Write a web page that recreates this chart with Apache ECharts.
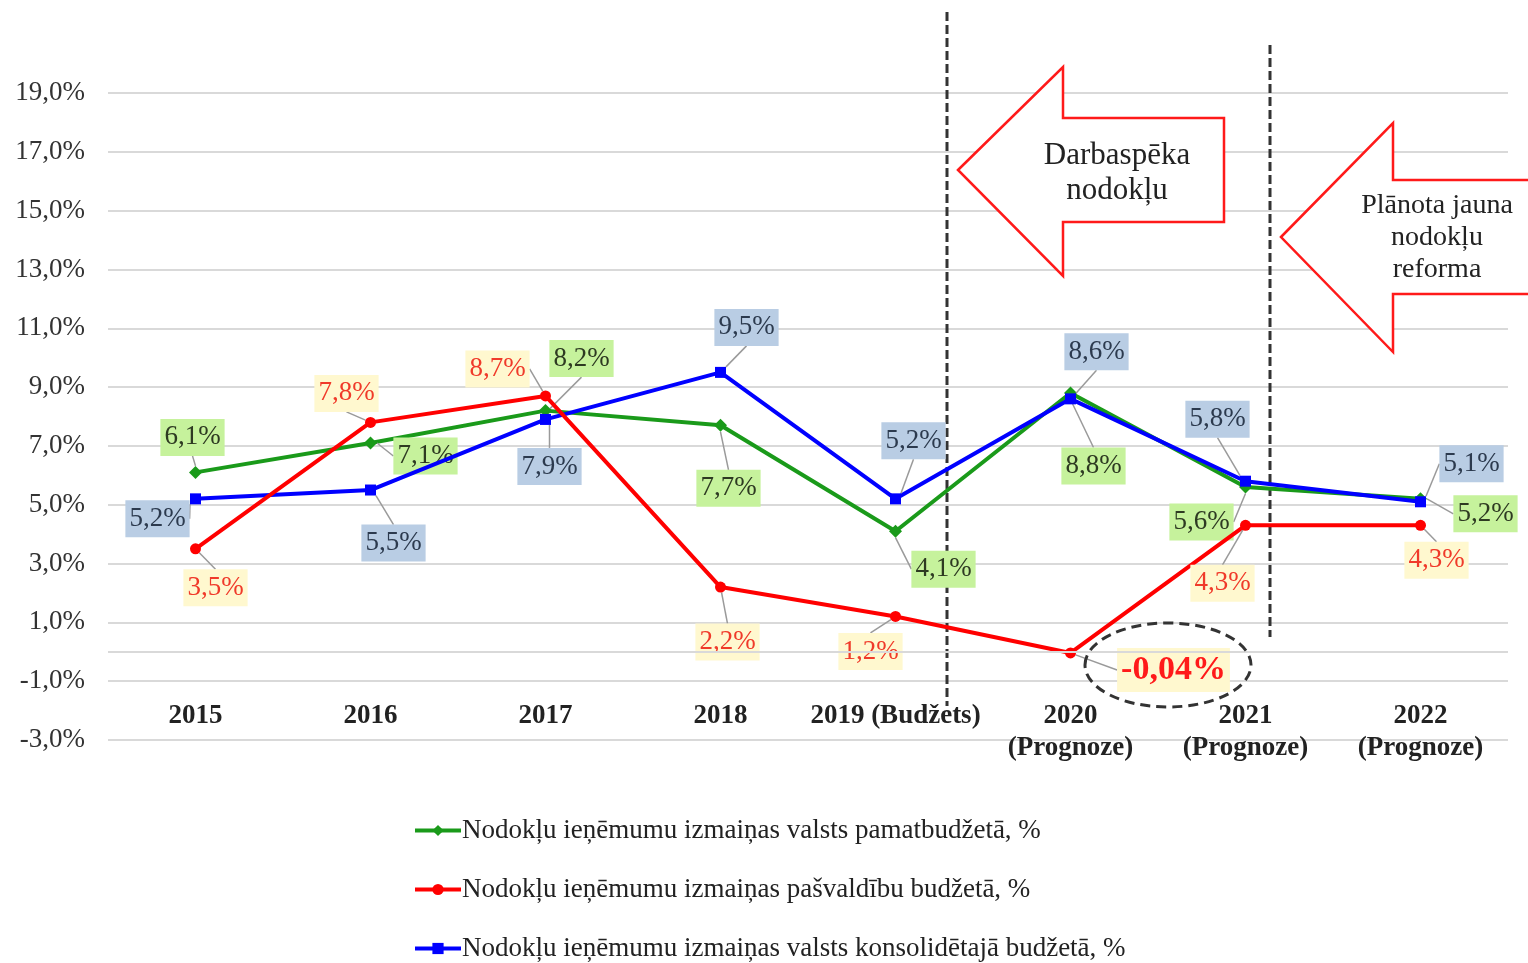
<!DOCTYPE html>
<html>
<head>
<meta charset="utf-8">
<script src="https://cdn.jsdelivr.net/npm/echarts@6/dist/echarts.min.js"></script>
<style>
  html, body { margin: 0; padding: 0; background: #fff; }
  #chart { width: 1528px; height: 963px; }
</style>
</head>
<body>
<div id="chart"></div>
<script>
const categories = ['2015', '2016', '2017', '2018', '2019 (Budžets)', '2020\n(Prognoze)', '2021\n(Prognoze)', '2022\n(Prognoze)'];
const pamatbudzets = [6.1, 7.1, 8.2, 7.7, 4.1, 8.8, 5.6, 5.2];
const pasvaldibas = [3.5, 7.8, 8.7, 2.2, 1.2, -0.04, 4.3, 4.3];
const konsolidetais = [5.2, 5.5, 7.9, 9.5, 5.2, 8.6, 5.8, 5.1];
const seriesNames = [
  'Nodokļu ieņēmumu izmaiņas valsts pamatbudžetā, %',
  'Nodokļu ieņēmumu izmaiņas pašvaldību budžetā, %',
  'Nodokļu ieņēmumu izmaiņas valsts konsolidētajā budžetā, %'
];

// label shifts (px) from each point
const greenShift = [[-3, -35], [55, 13], [36, -52], [8, 63], [48, 38], [23, 73], [-44, 35], [65, 15]];
const redShift = [[20, 39], [-24, -29], [-48, -27], [7, 55], [-25, 35], [103, 17], [-23, 58], [16, 35]];
const blueShift = [[-38, 20], [23, 53], [4, 47], [26, -45], [18, -58], [26, -47], [-28, -62], [51, -38]];

const serif = '"Liberation Serif", "DejaVu Serif", serif';

function fmt(v) {
  const d = Math.abs(v) < 0.1 ? 2 : 1;
  return v.toFixed(d).replace('.', ',') + '%';
}

function makeSeries(name, data, color, symbol, size, bg, textColor, shifts, z) {
  return {
    name: name,
    type: 'line',
    z: z,
    data: data,
    symbol: symbol,
    symbolSize: size,
    lineStyle: { color: color, width: 4 },
    itemStyle: { color: color },
    label: {
      show: true,
      position: 'inside',
      formatter: p => fmt(p.value),
      fontFamily: serif,
      fontSize: 27,
      lineHeight: 29,
      color: textColor,
      backgroundColor: bg,
      padding: [5, 4, 3, 4]
    },
    labelLine: {
      show: true,
      lineStyle: { color: '#9a9a9a', width: 1.5 }
    },
    labelLayout: p => ({ dx: shifts[p.dataIndex][0], dy: shifts[p.dataIndex][1] })
  };
}

const greenSeries = makeSeries(seriesNames[0], pamatbudzets, '#1a9a1a', 'diamond', 13, '#c6f29c', '#2e3a22', greenShift, 2);
greenSeries.markLine = {
  silent: true,
  symbol: 'none',
  label: { show: false },
  lineStyle: { color: '#d9d9d9', width: 2, type: 'solid' },
  data: [{ yAxis: 0 }]
};

const redSeries = makeSeries(seriesNames[1], pasvaldibas.map((v, i) => i === 5
  ? { value: v, label: { fontSize: 34, lineHeight: 36, fontWeight: 'bold', color: '#ff1a1a', backgroundColor: '#fff8cf' } }
  : v), '#ff0000', 'circle', 11, '#fff8cf', '#f03a2a', redShift, 4);

const blueSeries = makeSeries(seriesNames[2], konsolidetais, '#0000ff', 'rect', 11, '#b9cde4', '#2c3a4e', blueShift, 3);

const myChart = echarts.init(document.getElementById('chart'));
myChart.setOption({
  animation: false,
  textStyle: { fontFamily: serif },
  grid: { left: 108, right: 20, top: 93, bottom: 223 },
  legend: {
    orient: 'vertical',
    left: 413,
    top: 816,
    padding: 0,
    itemGap: 30,
    itemWidth: 46,
    itemHeight: 14,
    lineStyle: { width: 4 },
    textStyle: { fontFamily: serif, fontSize: 27, lineHeight: 29, color: '#222', padding: [0, 0, 0, -4] },
    data: seriesNames
  },
  xAxis: {
    type: 'category',
    data: categories,
    offset: -42,
    axisLine: { show: false },
    axisTick: { show: false },
    axisLabel: {
      interval: 0,
      margin: 2,
      fontFamily: serif,
      fontSize: 27,
      fontWeight: 'bold',
      color: '#222',
      lineHeight: 32
    }
  },
  yAxis: {
    type: 'value',
    min: -3,
    max: 19,
    interval: 2,
    axisLine: { show: false },
    axisTick: { show: false },
    splitLine: { lineStyle: { color: '#d9d9d9', width: 2 } },
    axisLabel: {
      margin: 23,
      fontFamily: serif,
      fontSize: 27,
      color: '#333',
      formatter: v => v.toFixed(1).replace('.', ',') + '%'
    }
  },
  graphic: [
    { type: 'line', shape: { x1: 947, y1: 12, x2: 947, y2: 706 },
      style: { stroke: '#333', lineWidth: 3, lineDash: [9, 4] }, z: 1 },
    { type: 'line', shape: { x1: 1270, y1: 45, x2: 1270, y2: 637 },
      style: { stroke: '#333', lineWidth: 3, lineDash: [9, 4] }, z: 1 },
    { type: 'polygon', z: 5,
      shape: { points: [[958, 170], [1063, 67], [1063, 118], [1224, 118], [1224, 222], [1063, 222], [1063, 276]] },
      style: { fill: '#fff', stroke: '#ff1a1a', lineWidth: 2.5 } },
    { type: 'text', z: 6, x: 1117, y: 173,
      style: { text: 'Darbaspēka\nnodokļu', font: '31px ' + serif, fill: '#222', align: 'center', verticalAlign: 'middle', lineHeight: 35 } },
    { type: 'polygon', z: 5,
      shape: { points: [[1281, 237], [1393, 123], [1393, 180], [1532, 180], [1532, 294], [1393, 294], [1393, 352]] },
      style: { fill: '#fff', stroke: '#ff1a1a', lineWidth: 2.5 } },
    { type: 'text', z: 6, x: 1437, y: 238,
      style: { text: 'Plānota jauna\nnodokļu\nreforma', font: '28px ' + serif, fill: '#222', align: 'center', verticalAlign: 'middle', lineHeight: 32 } },
    { type: 'ellipse', z: 7, shape: { cx: 1168, cy: 665, rx: 83, ry: 42 },
      style: { fill: 'none', stroke: '#333', lineWidth: 3, lineDash: [10, 6] } }
  ],
  series: [greenSeries, redSeries, blueSeries]
});
</script>
</body>
</html>
